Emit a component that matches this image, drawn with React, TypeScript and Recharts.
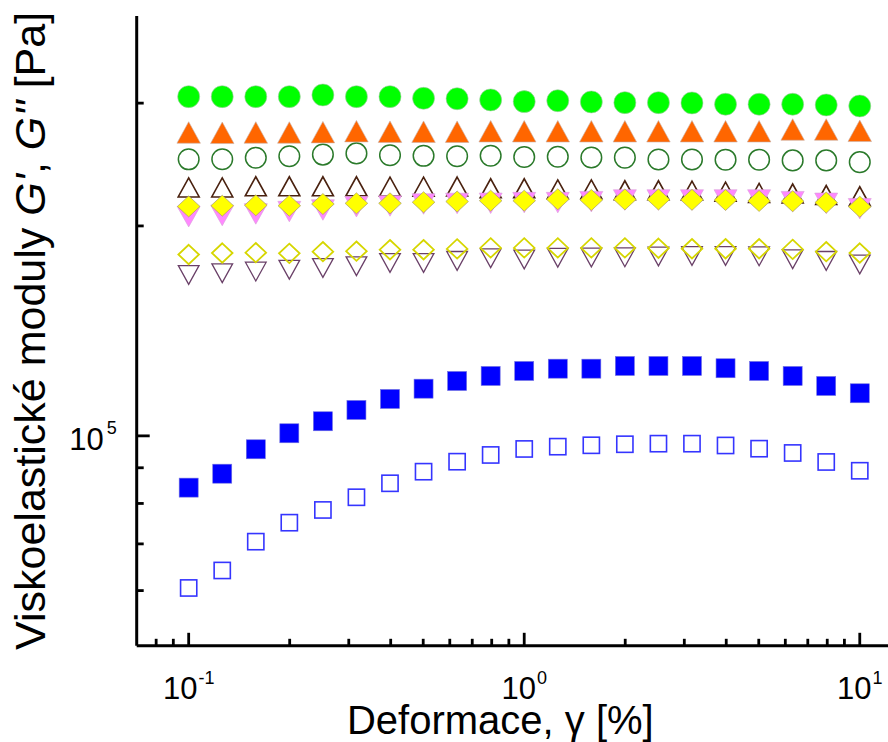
import React from 'react';
import { ScatterChart, Scatter, XAxis, YAxis } from 'recharts';

// strain values (x): 10 points per decade
const STRAIN = [0.1, 0.1259, 0.1585, 0.1995, 0.2512, 0.3162, 0.3981, 0.5012, 0.631, 0.7943, 1, 1.259, 1.585, 1.995, 2.512, 3.162, 3.981, 5.012, 6.31, 7.943, 10];

// G' (filled) and G'' (open) series, Pa
const GREEN_G1 = [306500, 306500, 306500, 306500, 308200, 306500, 306500, 304800, 304400, 303200, 301500, 302400, 301200, 300500, 300500, 300200, 298900, 298900, 298900, 298200, 297200];
const ORANGE_G1 = [272300, 272000, 272300, 272300, 272600, 273500, 273000, 273000, 273000, 273400, 273400, 273400, 273400, 273400, 273400, 273400, 273400, 273400, 275000, 275000, 273800];
const GREEN_G2 = [249200, 249300, 250500, 251700, 253100, 254100, 252600, 252100, 251700, 252200, 251100, 251300, 250700, 250600, 249100, 249100, 248900, 248900, 248300, 248300, 246900];
const BROWN_G2 = [227100, 227100, 228000, 228000, 228000, 228000, 227700, 227700, 227800, 226500, 226500, 225700, 225700, 225000, 225000, 224800, 224000, 223000, 222600, 221500, 220600];
const PINK_G1 = [206200, 207000, 208100, 209700, 210800, 213100, 213600, 215000, 215400, 215500, 216000, 216000, 216700, 217900, 217900, 217900, 217900, 217900, 216700, 215500, 211700];
const YELLOW_G1 = [213300, 213800, 214100, 213800, 215000, 215500, 215500, 216300, 216800, 217400, 217400, 218400, 217900, 218300, 218300, 218000, 217900, 217200, 217000, 216000, 213100];
const PURPLE_G2 = [170100, 171100, 172000, 173100, 174100, 175100, 177000, 177000, 178200, 179800, 179000, 180100, 180200, 180300, 180800, 181100, 181100, 180900, 179200, 178200, 176100];
const YELLOW_G2 = [182000, 182900, 183100, 182700, 183700, 184000, 184900, 184900, 185400, 186000, 186000, 186000, 186000, 186000, 185800, 185500, 185500, 185500, 185100, 183700, 182900];
const BLUE_G1 = [84290, 88260, 95670, 100860, 104940, 108930, 112960, 116860, 119870, 121870, 123900, 124840, 124840, 125960, 125960, 125960, 125010, 123900, 121870, 117910, 115100];
const BLUE_G2 = [60520, 64120, 70520, 75080, 78300, 81650, 85510, 88850, 91830, 93890, 95770, 96500, 96940, 97270, 97460, 97460, 96880, 95860, 94510, 91740, 89120];

// axes
const X_DOMAIN = [0.07, 13];
const Y_DOMAIN = [50000, 400000];
const X_TICKS = [0.08, 0.09, 0.1, 0.2, 0.3, 0.4, 0.5, 0.6, 0.7, 0.8, 0.9, 1, 2, 3, 4, 5, 6, 7, 8, 9, 10];
const X_MAJOR = [0.1, 1, 10];
const X_MAJOR_EXP = ['-1', '0', '1'];
const Y_TICKS = [60000, 70000, 80000, 90000, 100000, 200000, 300000];
const Y_MAJOR = [100000];
const Y_MAJOR_EXP = ['5'];

const X_TITLE = 'Deformace, \u03b3 [%]';

const FONT = '"Liberation Sans", Arial, Helvetica, sans-serif';
const AXIS_W = 3;
const TICK_W = 2.8;
const MAJOR_LEN = 13;
const MINOR_LEN = 7;

type Sym = { kind: 'circle' | 'up' | 'down' | 'diamond' | 'square'; w: number; h: number; fill: string; stroke: string; sw: number };

function makeShape(s: Sym) {
  return (p: any) => {
    const { cx, cy } = p;
    if (cx == null || cy == null) return <g />;
    const hw = s.w / 2;
    const hh = s.h / 2;
    const common = { fill: s.fill, stroke: s.stroke, strokeWidth: s.sw };
    switch (s.kind) {
      case 'circle':
        return <circle cx={cx} cy={cy} r={hw} {...common} />;
      case 'up':
        return <polygon points={`${cx},${cy - hh} ${cx + hw},${cy + hh} ${cx - hw},${cy + hh}`} {...common} strokeLinejoin="miter" />;
      case 'down':
        return <polygon points={`${cx - hw},${cy - hh} ${cx + hw},${cy - hh} ${cx},${cy + hh}`} {...common} strokeLinejoin="miter" />;
      case 'diamond':
        return <polygon points={`${cx},${cy - hh} ${cx + hw},${cy} ${cx},${cy + hh} ${cx - hw},${cy}`} {...common} />;
      default:
        return <rect x={cx - hw} y={cy - hh} width={s.w} height={s.h} {...common} />;
    }
  };
}

const SYM_GREEN_G1: Sym = { kind: 'circle', w: 22, h: 22, fill: '#00FF00', stroke: '#A8C8A8', sw: 0.6 };
const SYM_ORANGE_G1: Sym = { kind: 'up', w: 23.5, h: 21.5, fill: '#FF6600', stroke: '#C8B0A8', sw: 0.6 };
const SYM_GREEN_G2: Sym = { kind: 'circle', w: 20.6, h: 20.6, fill: 'none', stroke: '#2B7A2B', sw: 1.5 };
const SYM_BROWN_G2: Sym = { kind: 'up', w: 21, h: 19, fill: 'none', stroke: '#4A2210', sw: 1.6 };
const SYM_PINK_G1: Sym = { kind: 'down', w: 23, h: 20.5, fill: '#FF88FF', stroke: '#D8A0D8', sw: 0.6 };
const SYM_YELLOW_G1: Sym = { kind: 'diamond', w: 22.6, h: 21, fill: '#FFFF00', stroke: '#A89A70', sw: 0.7 };
const SYM_PURPLE_G2: Sym = { kind: 'down', w: 20.7, h: 18.8, fill: 'none', stroke: '#6A4068', sw: 1.3 };
const SYM_YELLOW_G2: Sym = { kind: 'diamond', w: 20.6, h: 19.4, fill: 'none', stroke: '#D6D600', sw: 1.8 };
const SYM_BLUE_G1: Sym = { kind: 'square', w: 19, h: 19, fill: '#0000FF', stroke: '#7070E0', sw: 0.6 };
const SYM_BLUE_G2: Sym = { kind: 'square', w: 16.2, h: 16.2, fill: 'none', stroke: '#3535FF', sw: 1.6 };

const toData = (ys: number[]) => STRAIN.map((x, i) => ({ x, y: ys[i] }));

const SERIES: { name: string; ys: number[]; sym: Sym }[] = [
  { name: 'blueG2', ys: BLUE_G2, sym: SYM_BLUE_G2 },
  { name: 'blueG1', ys: BLUE_G1, sym: SYM_BLUE_G1 },
  { name: 'purpleG2', ys: PURPLE_G2, sym: SYM_PURPLE_G2 },
  { name: 'yellowG2', ys: YELLOW_G2, sym: SYM_YELLOW_G2 },
  { name: 'brownG2', ys: BROWN_G2, sym: SYM_BROWN_G2 },
  { name: 'pinkG1', ys: PINK_G1, sym: SYM_PINK_G1 },
  { name: 'yellowG1', ys: YELLOW_G1, sym: SYM_YELLOW_G1 },
  { name: 'greenG2', ys: GREEN_G2, sym: SYM_GREEN_G2 },
  { name: 'orangeG1', ys: ORANGE_G1, sym: SYM_ORANGE_G1 },
  { name: 'greenG1', ys: GREEN_G1, sym: SYM_GREEN_G1 },
];

function BottomTick(props: any) {
  const { x, y, payload } = props;
  const idx = X_MAJOR.indexOf(payload.value);
  const major = idx >= 0;
  return (
    <g>
      <line x1={x} x2={x} y1={y} y2={y - (major ? MAJOR_LEN : MINOR_LEN)} stroke="#000" strokeWidth={TICK_W} />
      {major && (
        <text x={x} y={y + 53} textAnchor="middle" fontFamily={FONT} fontSize={31} fill="#000">
          10
          <tspan dx={1} dy={-15} fontSize={18}>{X_MAJOR_EXP[idx]}</tspan>
        </text>
      )}
    </g>
  );
}

function TopTick(props: any) {
  const { x, y, payload } = props;
  const major = X_MAJOR.indexOf(payload.value) >= 0;
  return <line x1={x} x2={x} y1={y} y2={y + (major ? MAJOR_LEN : MINOR_LEN)} stroke="#000" strokeWidth={TICK_W} />;
}

function LeftTick(props: any) {
  const { x, y, payload } = props;
  const idx = Y_MAJOR.indexOf(payload.value);
  const major = idx >= 0;
  return (
    <g>
      <line x1={x} x2={x + (major ? MAJOR_LEN : MINOR_LEN)} y1={y} y2={y} stroke="#000" strokeWidth={TICK_W} />
      {major && (
        <text x={x - 20} y={y + 14} textAnchor="end" fontFamily={FONT} fontSize={31} fill="#000">
          10
          <tspan dx={3} dy={-16} fontSize={18}>{Y_MAJOR_EXP[idx]}</tspan>
        </text>
      )}
    </g>
  );
}

function RightTick(props: any) {
  const { x, y, payload } = props;
  const major = Y_MAJOR.indexOf(payload.value) >= 0;
  return <line x1={x} x2={x - (major ? MAJOR_LEN : MINOR_LEN)} y1={y} y2={y} stroke="#000" strokeWidth={TICK_W} />;
}

function XTitle(props: any) {
  const vb = props.viewBox || { x: 0, y: 0, width: 0, height: 0 };
  return (
    <text x={vb.x + vb.width / 2 - 17} y={vb.y + 88} textAnchor="middle" fontFamily={FONT} fontSize={40} fill="#000">
      {X_TITLE}
    </text>
  );
}

function YTitle(props: any) {
  const vb = props.viewBox || { x: 0, y: 0, width: 0, height: 0 };
  const cx = vb.x + 45;
  const cy = vb.y + vb.height / 2;
  return (
    <text transform={`translate(${cx}, ${cy}) rotate(-90)`} textAnchor="middle" fontFamily={FONT} fontSize={43} fill="#000">
      {'Viskoelastické moduly '}
      <tspan fontStyle="italic">{"G'"}</tspan>
      {', '}
      <tspan fontStyle="italic">{"G''"}</tspan>
      {' [Pa]'}
    </text>
  );
}

const AXIS_LINE = { stroke: '#000', strokeWidth: AXIS_W };

export default function App() {
  return (
    <div style={{ position: 'absolute', left: 0, top: 0, width: 888, height: 742, overflow: 'hidden', background: '#fff' }}>
      <ScatterChart width={940} height={742} margin={{ top: 16, right: 42, bottom: 0, left: 0 }}>
        <XAxis
          xAxisId="b"
          dataKey="x"
          type="number"
          scale="log"
          domain={X_DOMAIN}
          allowDataOverflow
          ticks={X_TICKS}
          interval={0}
          orientation="bottom"
          height={96.2}
          tickSize={0}
          tickMargin={0}
          tickLine={false}
          stroke="#000"
          strokeWidth={AXIS_W}
          axisLine={AXIS_LINE}
          tick={<BottomTick />}
          label={<XTitle />}
        />
        <XAxis
          xAxisId="t"
          dataKey="x"
          type="number"
          scale="log"
          domain={X_DOMAIN}
          allowDataOverflow
          ticks={X_TICKS}
          interval={0}
          orientation="top"
          height={0}
          tickSize={0}
          tickMargin={0}
          tickLine={false}
          stroke="#000"
          strokeWidth={AXIS_W}
          axisLine={AXIS_LINE}
          tick={<TopTick />}
        />
        <YAxis
          yAxisId="l"
          dataKey="y"
          type="number"
          scale="log"
          domain={Y_DOMAIN}
          allowDataOverflow
          ticks={Y_TICKS}
          interval={0}
          orientation="left"
          width={136.7}
          tickSize={0}
          tickMargin={0}
          tickLine={false}
          stroke="#000"
          strokeWidth={AXIS_W}
          axisLine={AXIS_LINE}
          tick={<LeftTick />}
          label={<YTitle />}
        />
        <YAxis
          yAxisId="r"
          dataKey="y"
          type="number"
          scale="log"
          domain={Y_DOMAIN}
          allowDataOverflow
          ticks={Y_TICKS}
          interval={0}
          orientation="right"
          width={0}
          tickSize={0}
          tickMargin={0}
          tickLine={false}
          stroke="#000"
          strokeWidth={AXIS_W}
          axisLine={AXIS_LINE}
          tick={<RightTick />}
        />
        {SERIES.map((s) => (
          <Scatter
            key={s.name}
            name={s.name}
            data={toData(s.ys)}
            xAxisId="b"
            yAxisId="l"
            isAnimationActive={false}
            shape={makeShape(s.sym)}
          />
        ))}
      </ScatterChart>
    </div>
  );
}
